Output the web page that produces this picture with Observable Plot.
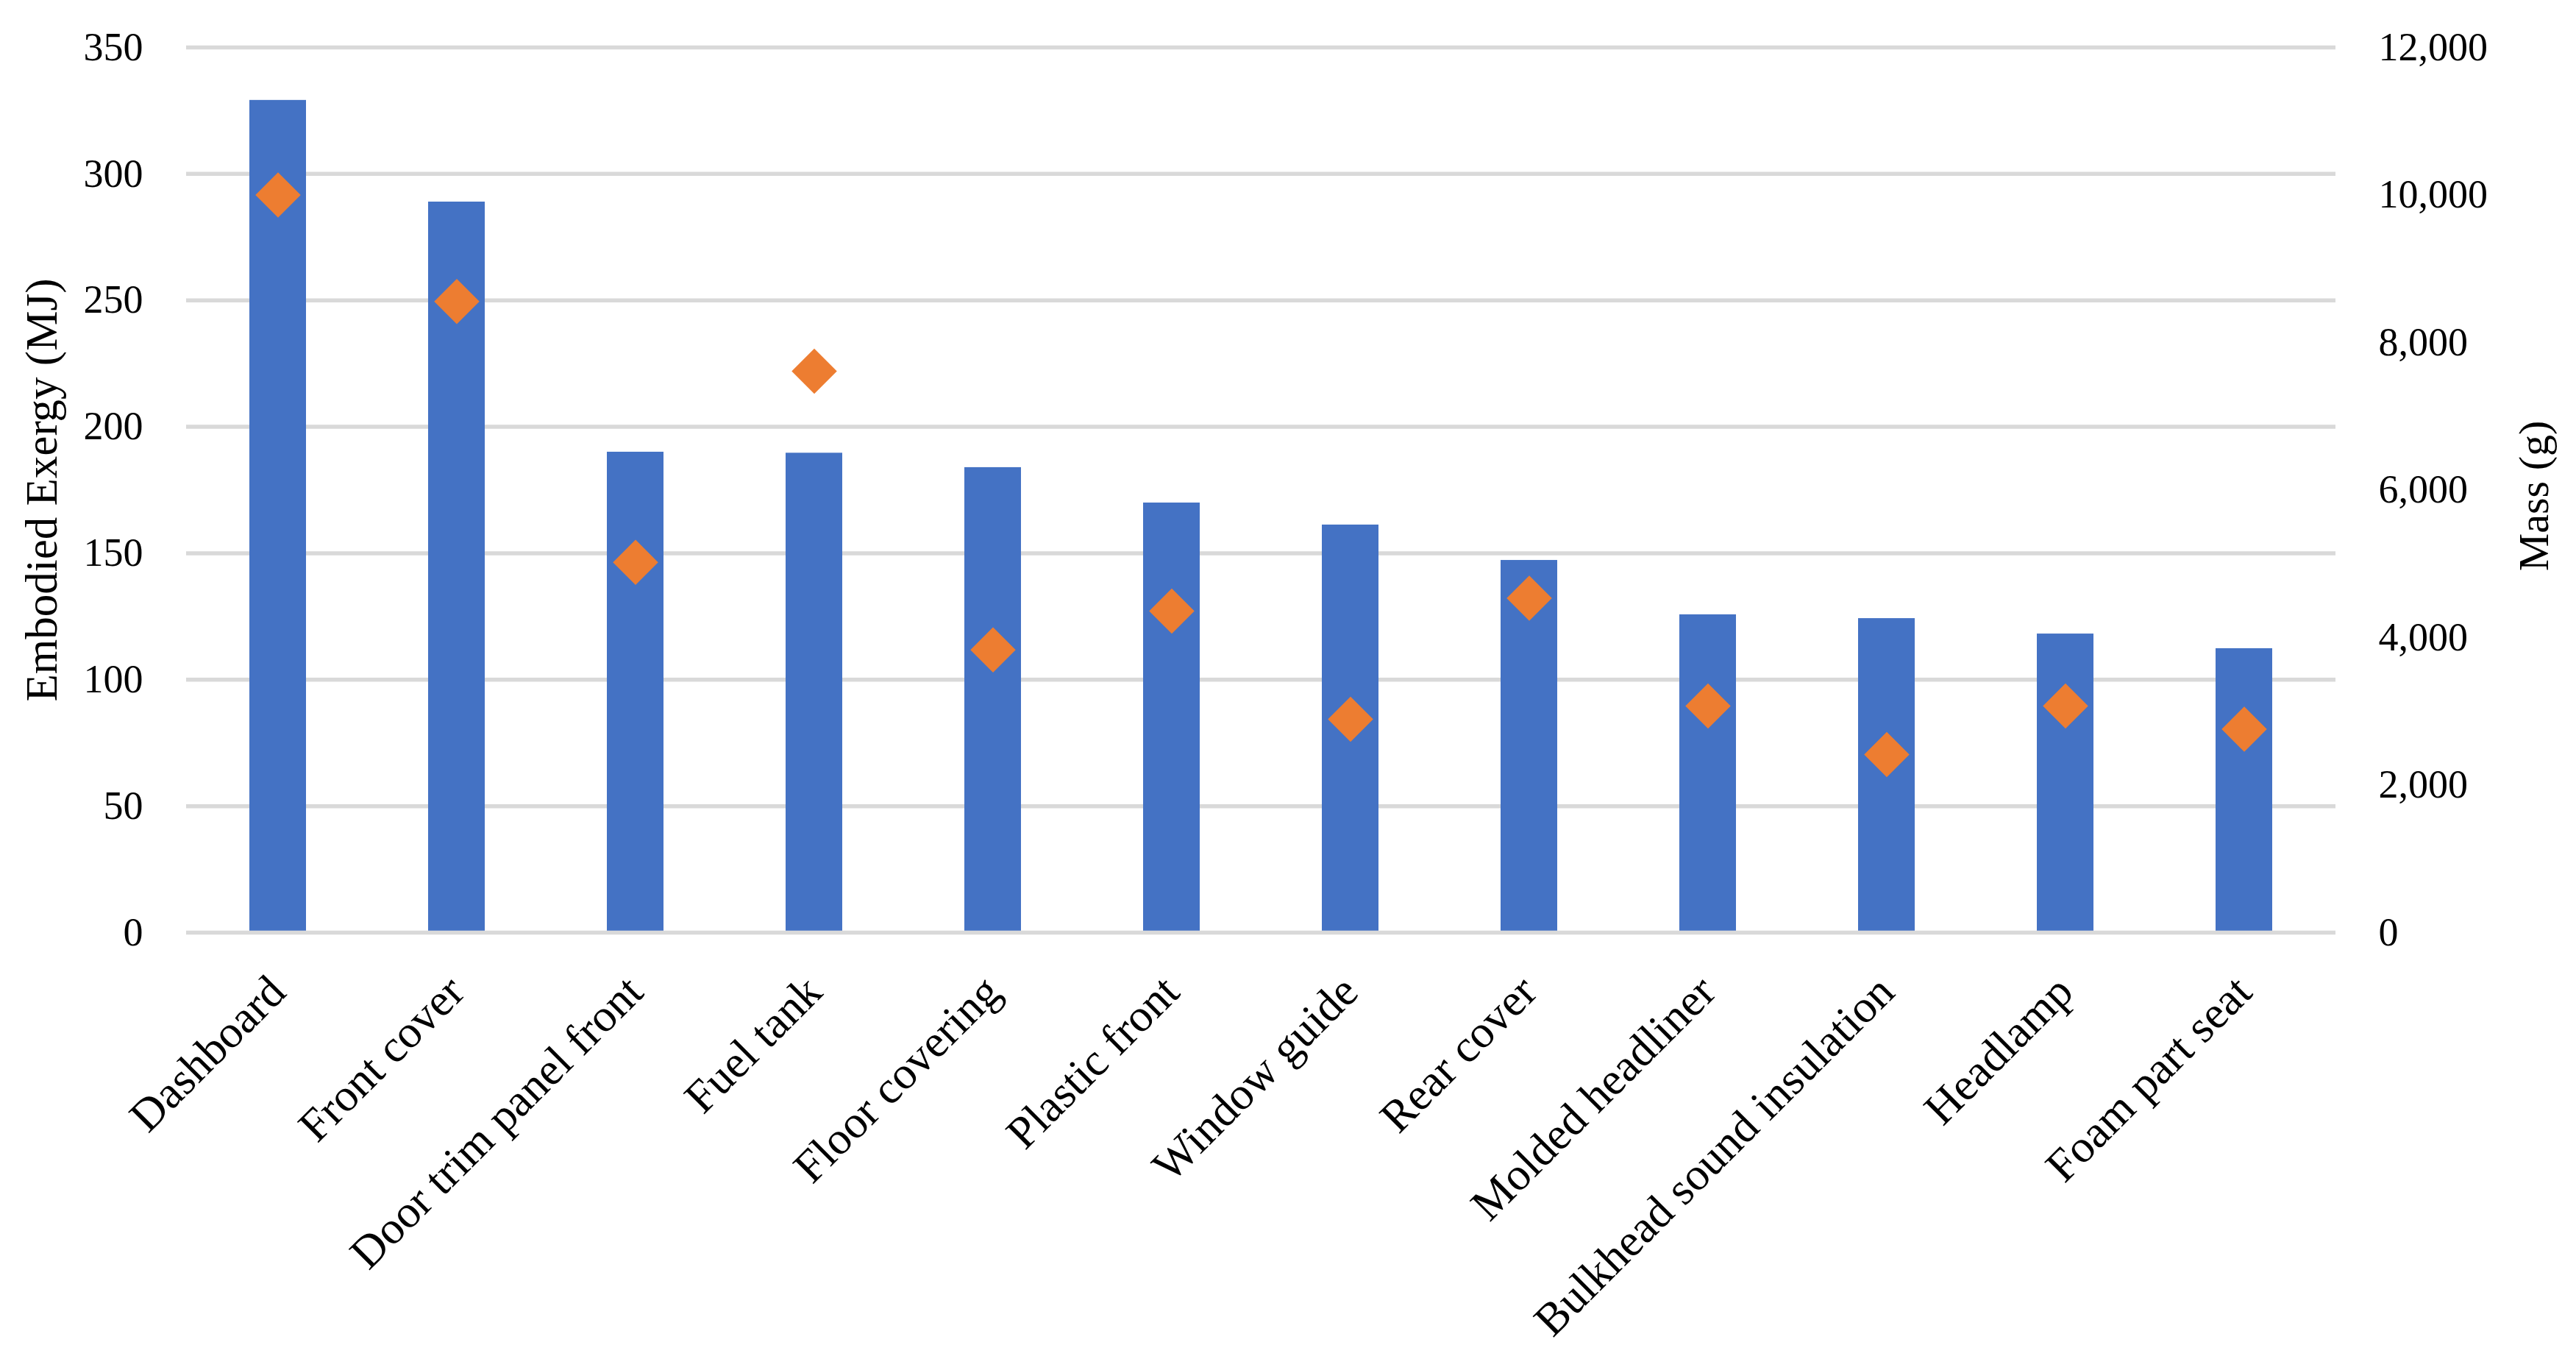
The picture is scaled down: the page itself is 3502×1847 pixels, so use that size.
<!DOCTYPE html>
<html><head><meta charset="utf-8">
<script src="https://cdn.jsdelivr.net/npm/d3@7"></script>
<script src="https://cdn.jsdelivr.net/npm/@observablehq/plot@0.6"></script>
<style>
html,body{margin:0;padding:0;background:#fff;}
#chart svg{display:block;}
</style>
</head><body><div id="chart"></div>
<script>
const categories = ["Dashboard","Front cover","Door trim panel front","Fuel tank","Floor covering","Plastic front","Window guide","Rear cover","Molded headliner","Bulkhead sound insulation","Headlamp","Foam part seat"];
const exergy = [329.1, 288.9, 190.0, 189.6, 183.9, 169.9, 161.2, 147.2, 125.7, 124.2, 118.1, 112.3];
const mass = [10000, 8556, 5019, 7611, 3834, 4359, 2893, 4534, 3072, 2414, 3072, 2757];
const exergyTicks = [0, 50, 100, 150, 200, 250, 300, 350];
const massTicks = [0, 2000, 4000, 6000, 8000, 10000, 12000];
const leftTitle = "Embodied Exergy (MJ)";
const rightTitle = "Mass (g)";

const data = categories.map((c, i) => ({cat: c, exergy: exergy[i], mass: mass[i]}));
// secondary axis: mass domain mapped onto the primary exergy domain
const massToY = d3.scaleLinear().domain([0, 12000]).range([0, 350]);
const fmt = d3.format(",");

const font = "'Liberation Serif', 'Times New Roman', serif";

const chart = Plot.plot({
  width: 3502,
  height: 1847,
  marginTop: 64,
  marginBottom: 580,
  marginLeft: 253,
  marginRight: 327,
  style: {fontFamily: font, fontSize: "54px", color: "#000", background: "#fff"},
  x: {domain: categories, paddingInner: 0.684, paddingOuter: 0.342, axis: null},
  y: {domain: [0, 350], axis: null},
  marks: [
    Plot.ruleY(exergyTicks.filter(d => d > 0), {stroke: "#D9D9D9", strokeWidth: 5.5}),
    Plot.barY(data, {x: "cat", y: "exergy", fill: "#4472C4"}),
    Plot.ruleY([0], {stroke: "#D9D9D9", strokeWidth: 5.5}),
    Plot.dot(data, {x: "cat", y: d => massToY(d.mass), symbol: "diamond2", r: 27.7, fill: "#ED7D31", stroke: null}),
    Plot.axisY({anchor: "left", ticks: exergyTicks, tickSize: 0, tickPadding: 59, label: null, fontSize: 54}),
    Plot.axisY({anchor: "right", ticks: massTicks.map(m => massToY(m)), tickSize: 0, tickPadding: 58, label: null, fontSize: 54,
      tickFormat: v => fmt(Math.round(massToY.invert(v)))}),
    Plot.text(categories, {x: d => d, y: () => 0, rotate: -45, textAnchor: "end", lineAnchor: "bottom", dx: 13.5, dy: 84, fontSize: 62}),
    Plot.text([leftTitle], {frameAnchor: "left", rotate: -90, textAnchor: "middle", lineAnchor: "bottom", dx: -177, fontSize: 61}),
    Plot.text([rightTitle], {frameAnchor: "right", rotate: -90, textAnchor: "middle", lineAnchor: "bottom", dx: 288, dy: 8, fontSize: 58})
  ]
});
document.getElementById("chart").appendChild(chart);
</script>
</body></html>
